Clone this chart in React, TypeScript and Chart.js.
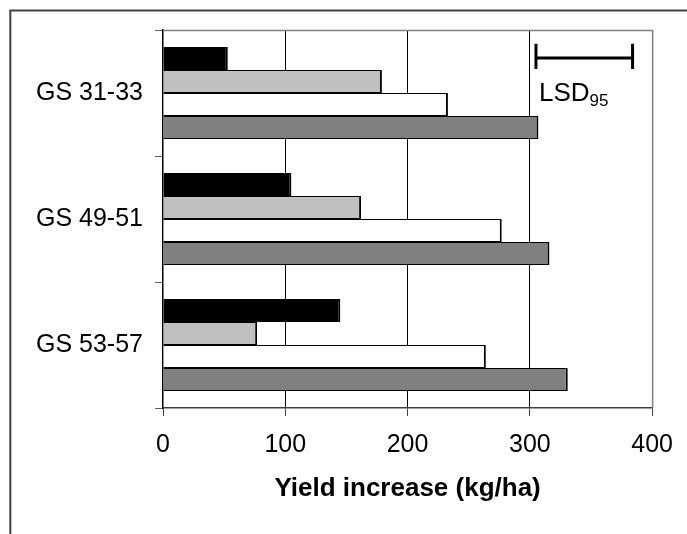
import React, { useEffect, useRef } from "react";
import { Chart, registerables } from "chart.js";

Chart.register(...registerables);

const categories = ["GS 31-33", "GS 49-51", "GS 53-57"];
const seriesBlack = [53, 105, 145];
const seriesLightGray = [179, 162, 77];
const seriesWhite = [233, 277, 264];
const seriesDarkGray = [307, 316, 331];
const xMin = 0;
const xMax = 400;
const xStep = 100;
const lsdStart = 305;
const lsdEnd = 384;
const lsdLabel = "LSD";
const lsdSub = "95";
const xTitle = "Yield increase (kg/ha)";

const FONT = "'Liberation Sans', Arial, sans-serif";

const decorPlugin = {
  id: "decor",
  beforeDraw(chart: any) {
    const ctx = chart.ctx;
    ctx.save();
    ctx.strokeStyle = "#404040";
    ctx.lineWidth = 2;
    ctx.beginPath();
    ctx.moveTo(10.3, chart.height);
    ctx.lineTo(10.3, 10.5);
    ctx.lineTo(chart.width, 10.5);
    ctx.stroke();
    ctx.restore();
  },
  afterDatasetsDraw(chart: any) {
    const { ctx, chartArea: a, scales } = chart;
    ctx.save();
    ctx.strokeStyle = "#808080";
    ctx.lineWidth = 1.5;
    ctx.beginPath();
    ctx.moveTo(a.left, a.top + 0.5);
    ctx.lineTo(a.right + 0.5, a.top + 0.5);
    ctx.lineTo(a.right + 0.5, a.bottom);
    ctx.stroke();

    const xs = scales.x;
    const ys = scales.y;
    const x0 = xs.getPixelForValue(lsdStart);
    const x1 = xs.getPixelForValue(lsdEnd);
    const yl = ys.getPixelForValue(-0.278);
    const yt = ys.getPixelForValue(-0.39);
    const yb = ys.getPixelForValue(-0.19);
    ctx.strokeStyle = "#000";
    ctx.lineWidth = 3;
    ctx.beginPath();
    ctx.moveTo(x0, yl);
    ctx.lineTo(x1, yl);
    ctx.moveTo(x0, yt);
    ctx.lineTo(x0, yb);
    ctx.moveTo(x1, yt);
    ctx.lineTo(x1, yb);
    ctx.stroke();

    const ty = ys.getPixelForValue(0.063);
    ctx.fillStyle = "#000";
    ctx.textBaseline = "alphabetic";
    ctx.textAlign = "left";
    ctx.font = `26px ${FONT}`;
    const tx = x0 + 3;
    ctx.fillText(lsdLabel, tx, ty);
    const w = ctx.measureText(lsdLabel).width;
    ctx.font = `17px ${FONT}`;
    ctx.fillText(lsdSub, tx + w, ty + 5);
    ctx.restore();
  },
};

export default function App() {
  const ref = useRef<HTMLCanvasElement | null>(null);

  useEffect(() => {
    if (!ref.current) return;
    const bw = { top: 1, bottom: 1, right: 2, left: 0 };
    const chart = new Chart(ref.current, {
      type: "bar",
      data: {
        labels: categories,
        datasets: [
          { label: "Series 1", data: seriesBlack, backgroundColor: "#000000", borderColor: "#000", borderWidth: bw },
          { label: "Series 2", data: seriesLightGray, backgroundColor: "#C0C0C0", borderColor: "#000", borderWidth: bw },
          { label: "Series 3", data: seriesWhite, backgroundColor: "#FFFFFF", borderColor: "#000", borderWidth: bw },
          { label: "Series 4", data: seriesDarkGray, backgroundColor: "#808080", borderColor: "#000", borderWidth: bw },
        ],
      },
      options: {
        indexAxis: "y",
        animation: false,
        responsive: false,
        devicePixelRatio: 1,
        layout: { padding: { top: 30, right: 34, left: 0, bottom: 0 } },
        datasets: { bar: { categoryPercentage: 0.73, barPercentage: 1.0 } },
        plugins: { legend: { display: false }, tooltip: { enabled: false }, title: { display: false } },
        scales: {
          x: {
            type: "linear",
            min: xMin,
            max: xMax,
            ticks: { stepSize: xStep, color: "#000", font: { family: FONT, size: 25 }, padding: 14 },
            grid: {
              color: (c: any) => (c.tick && (c.tick.value === xMin || c.tick.value === xMax) ? "rgba(0,0,0,0)" : "#000"),
              tickColor: "#404040",
              tickLength: 8,
              lineWidth: 1,
            },
            border: { color: "#404040", width: 1.5 },
            title: { display: true, text: xTitle, color: "#000", font: { family: FONT, size: 26, weight: "bold" }, padding: { top: 0, bottom: 30 } },
            afterFit: (s: any) => { s.height = 126; },
          },
          y: {
            type: "category",
            grid: { offset: true, drawOnChartArea: false, tickLength: 8, color: "#606060", tickColor: "#606060" },
            border: { color: "#000", width: 1.5 },
            ticks: { color: "#000", font: { family: FONT, size: 25 }, padding: 12 },
            afterFit: (s: any) => { s.width = 163; },
          },
        },
      },
      plugins: [decorPlugin],
    } as any);
    return () => chart.destroy();
  }, []);

  return (
    <div style={{ position: "absolute", left: 0, top: 0, width: 687, height: 534, background: "#fff" }}>
      <canvas ref={ref} width={687} height={534} style={{ display: "block" }} />
    </div>
  );
}
